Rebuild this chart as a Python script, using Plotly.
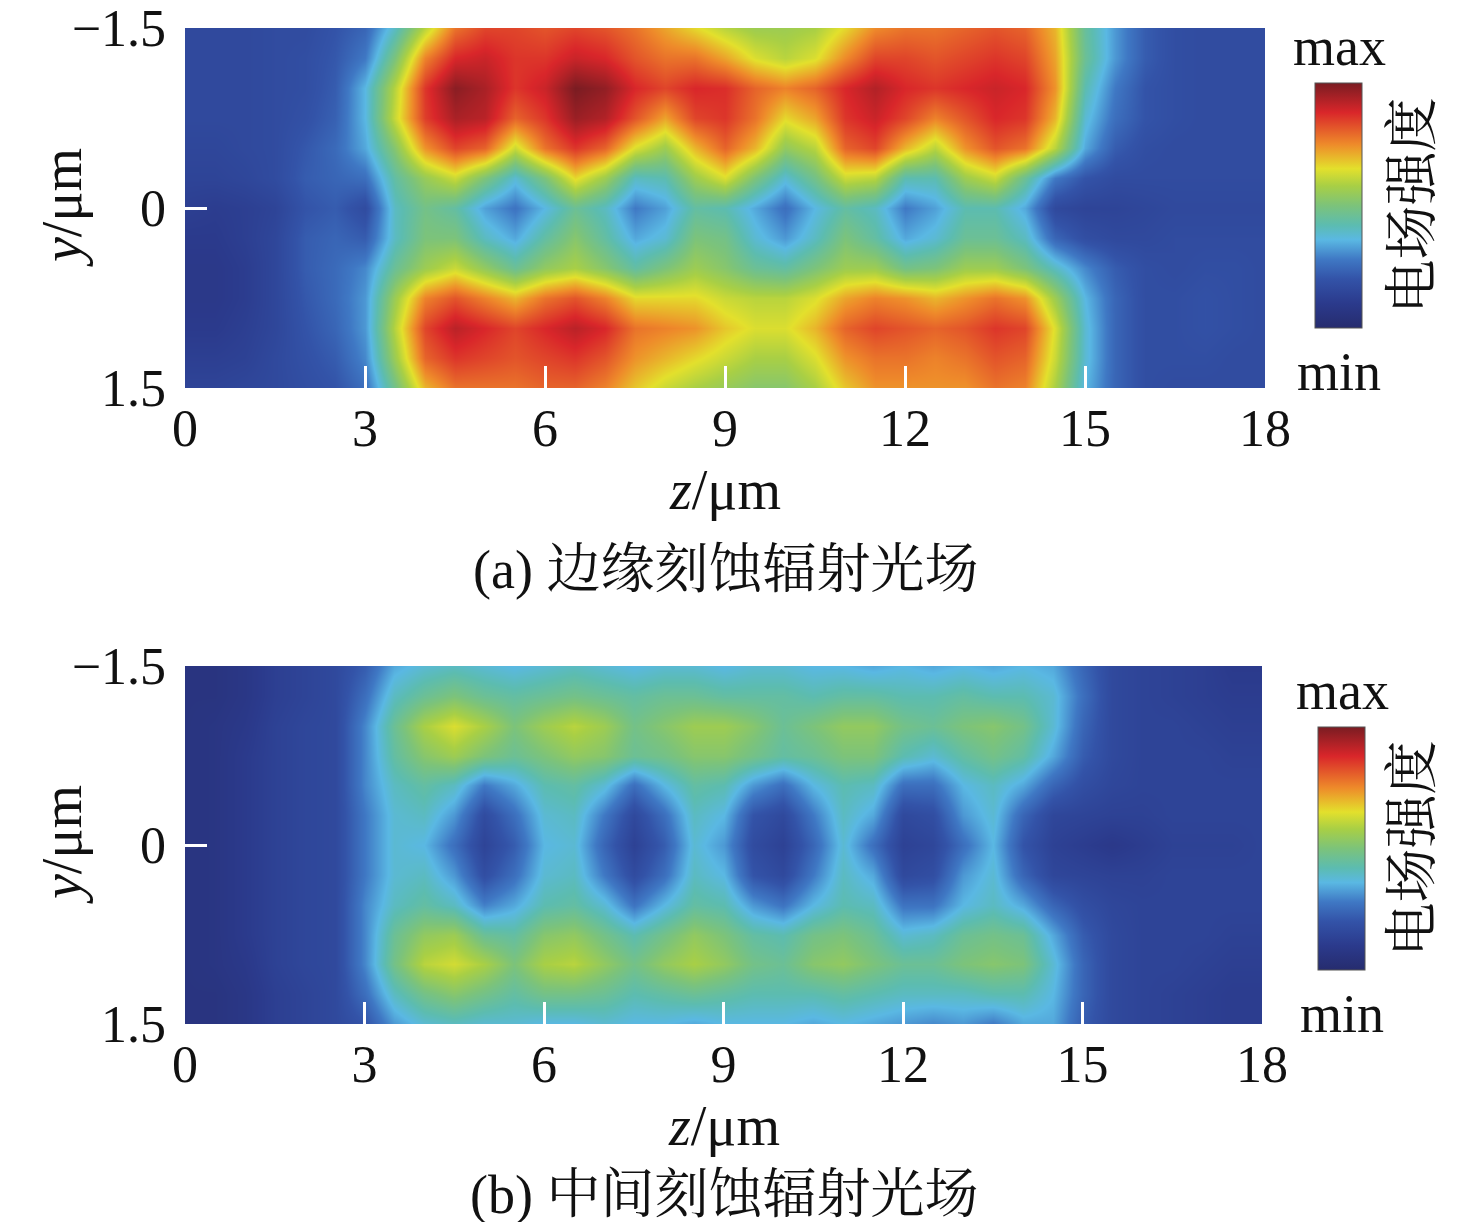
import plotly.graph_objects as go

# grid: z every 0.5 um, y every 0.25 um
z_um = [i * 0.5 for i in range(37)]
y_um = [-1.5, -1.25, -1.0, -0.75, -0.5, -0.25, 0.0, 0.25, 0.5, 0.75, 1.0, 1.25, 1.5]

# (a) edge-etched radiation field, relative intensity 0..100, one row per y
field_a = [
    [16, 16, 16, 17, 17, 20, 24, 40, 60, 78, 84, 84, 82, 84, 82, 78, 72, 66, 60, 56, 56, 58, 66, 75, 78, 78, 80, 82, 80, 70, 45, 32, 22, 18, 17, 17, 17],
    [16, 16, 16, 17, 18, 21, 28, 50, 76, 88, 90, 86, 86, 90, 88, 82, 78, 78, 72, 64, 60, 64, 75, 84, 84, 82, 84, 86, 84, 72, 46, 32, 22, 18, 17, 17, 17],
    [16, 16, 16, 17, 18, 22, 36, 60, 86, 98, 94, 86, 90, 100, 97, 88, 84, 88, 87, 80, 76, 80, 88, 93, 88, 86, 88, 90, 88, 74, 42, 28, 20, 18, 17, 17, 17],
    [16, 16, 16, 17, 19, 23, 36, 62, 85, 94, 92, 80, 86, 96, 93, 82, 72, 84, 86, 78, 66, 72, 86, 90, 84, 76, 82, 88, 86, 70, 38, 26, 20, 18, 17, 17, 17],
    [15, 15, 16, 17, 21, 25, 34, 52, 74, 84, 80, 62, 78, 86, 80, 64, 56, 70, 80, 70, 54, 60, 80, 84, 70, 60, 74, 82, 78, 60, 34, 22, 18, 17, 17, 17, 17],
    [14, 14, 15, 17, 22, 24, 26, 44, 55, 62, 50, 38, 50, 66, 56, 40, 42, 56, 64, 50, 38, 48, 62, 60, 42, 42, 56, 62, 46, 28, 20, 17, 17, 17, 17, 17, 17],
    [12, 11, 12, 14, 20, 22, 17, 40, 48, 44, 33, 27, 36, 46, 40, 28, 33, 44, 42, 34, 26, 36, 44, 40, 28, 33, 42, 42, 34, 16, 14, 14, 15, 16, 16, 16, 16],
    [10, 10, 12, 15, 22, 24, 22, 40, 50, 50, 40, 34, 44, 52, 44, 34, 38, 50, 48, 38, 32, 40, 50, 44, 34, 38, 46, 46, 40, 24, 18, 16, 16, 17, 17, 17, 17],
    [9, 9, 11, 15, 22, 25, 30, 46, 56, 62, 54, 46, 54, 58, 52, 44, 50, 56, 52, 46, 44, 50, 56, 56, 48, 50, 56, 56, 50, 40, 30, 22, 18, 17, 18, 18, 17],
    [9, 9, 11, 15, 21, 25, 32, 56, 76, 82, 76, 70, 78, 82, 76, 66, 66, 66, 62, 60, 60, 64, 72, 76, 74, 70, 74, 78, 74, 56, 36, 24, 18, 18, 19, 18, 17],
    [10, 10, 12, 15, 20, 24, 32, 60, 84, 92, 88, 84, 88, 92, 88, 78, 76, 74, 68, 64, 64, 70, 80, 84, 82, 80, 82, 86, 84, 64, 38, 24, 18, 18, 19, 18, 17],
    [12, 12, 13, 16, 19, 22, 30, 56, 80, 86, 84, 82, 84, 86, 82, 74, 70, 66, 62, 58, 58, 64, 74, 78, 78, 76, 78, 82, 80, 62, 38, 24, 18, 18, 18, 17, 17],
    [14, 14, 15, 16, 18, 20, 26, 48, 70, 78, 78, 78, 80, 80, 76, 68, 62, 58, 55, 52, 52, 58, 68, 74, 74, 74, 74, 78, 76, 58, 36, 24, 18, 17, 17, 17, 17],
]

# (b) centre-etched radiation field
field_b = [
    [6, 6, 8, 12, 14, 16, 22, 34, 38, 40, 38, 36, 38, 40, 38, 36, 38, 38, 36, 38, 38, 36, 36, 34, 36, 34, 36, 34, 36, 34, 24, 16, 14, 13, 12, 10, 10],
    [6, 6, 8, 12, 14, 16, 26, 40, 46, 50, 46, 44, 46, 48, 46, 44, 46, 46, 44, 44, 44, 42, 44, 44, 42, 42, 44, 42, 42, 38, 26, 16, 14, 13, 12, 11, 11],
    [6, 7, 9, 13, 15, 16, 30, 46, 58, 64, 58, 50, 56, 60, 56, 48, 52, 56, 56, 52, 46, 50, 54, 54, 48, 46, 50, 52, 48, 38, 24, 16, 14, 14, 13, 12, 12],
    [6, 7, 10, 13, 15, 16, 30, 44, 52, 56, 50, 46, 50, 54, 52, 46, 48, 52, 52, 48, 44, 46, 50, 50, 42, 38, 44, 48, 44, 34, 22, 16, 14, 14, 14, 13, 13],
    [6, 7, 10, 13, 15, 16, 30, 40, 44, 40, 28, 34, 42, 44, 38, 26, 36, 44, 42, 32, 26, 36, 42, 40, 26, 26, 36, 40, 34, 24, 18, 15, 14, 14, 14, 14, 14],
    [6, 7, 10, 13, 15, 16, 28, 38, 40, 32, 17, 26, 38, 40, 28, 16, 26, 40, 36, 20, 16, 28, 40, 34, 16, 18, 32, 38, 24, 15, 14, 13, 13, 14, 14, 14, 14],
    [6, 7, 10, 13, 15, 16, 28, 38, 36, 26, 14, 22, 36, 38, 24, 13, 22, 38, 32, 17, 13, 24, 38, 26, 13, 15, 26, 36, 20, 13, 11, 9, 11, 13, 13, 13, 14],
    [6, 7, 10, 13, 15, 16, 28, 38, 40, 32, 18, 26, 38, 40, 28, 17, 26, 40, 36, 20, 16, 28, 40, 34, 16, 18, 32, 38, 24, 15, 14, 13, 13, 14, 14, 14, 14],
    [6, 7, 10, 13, 15, 16, 30, 40, 44, 40, 29, 34, 42, 44, 38, 27, 36, 44, 42, 32, 27, 36, 42, 40, 27, 27, 36, 40, 34, 24, 18, 15, 14, 14, 14, 14, 14],
    [6, 7, 10, 13, 15, 16, 30, 46, 54, 56, 46, 44, 52, 54, 48, 42, 48, 54, 50, 44, 42, 48, 50, 46, 38, 40, 46, 48, 46, 34, 22, 16, 14, 14, 14, 13, 13],
    [6, 7, 9, 13, 15, 16, 30, 48, 60, 63, 58, 50, 58, 60, 54, 48, 54, 58, 54, 48, 46, 52, 54, 50, 46, 46, 50, 52, 50, 38, 24, 16, 14, 14, 13, 12, 12],
    [6, 6, 8, 12, 14, 16, 26, 40, 48, 52, 48, 44, 48, 48, 46, 42, 44, 46, 44, 42, 42, 42, 44, 42, 40, 40, 40, 42, 42, 36, 24, 16, 14, 13, 12, 11, 11],
    [6, 6, 8, 12, 14, 16, 20, 32, 38, 40, 38, 38, 36, 36, 38, 36, 36, 34, 36, 36, 36, 34, 36, 34, 32, 30, 32, 28, 34, 34, 22, 16, 14, 13, 12, 11, 11],
]

z_ticks = [0, 3, 6, 9, 12, 15, 18]
y_ticks = [-1.5, 0, 1.5]
y_ticktext = ["\u22121.5", "0", "1.5"]
captions = ["(a) 边缘刻蚀辐射光场", "(b) 中间刻蚀辐射光场"]

jet = [
    [0.00, "#262c6e"], [0.10, "#2b3a8c"], [0.20, "#3353a8"], [0.28, "#3f78c4"],
    [0.36, "#5ab8e3"], [0.42, "#5cbcb0"], [0.50, "#7cc37a"], [0.58, "#a8cf45"],
    [0.65, "#e3e02c"], [0.75, "#ee8a2a"], [0.88, "#d9262a"], [1.00, "#7a1c22"],
]

# page is 1476x1230 but the html body keeps an 8px margin
PAGE_W, PAGE_H, BODY = 1476, 1230, 8
W, H = PAGE_W - 2 * BODY, PAGE_H - 2 * BODY
# plot area in page pixels
L, R, T, B = 185, 1265, 28, 1024
FONT = "Liberation Serif, 'Noto Serif CJK SC', 'Noto Sans CJK SC', serif"


def px(x):
    return (x - L) / (R - L)


def py(y):
    return (B - y) / (B - T)


# pixel boxes of each panel: (left, right, top, bottom), colorbar (left, top, bottom),
# caption centre offset below the panel
panels = [
    dict(field=field_a, box=(185, 1265, 28, 388), cbar=(1315, 83, 328), cap=182),
    dict(field=field_b, box=(185, 1262, 666, 1024), cbar=(1318, 727, 970), cap=171),
]

fig = go.Figure()
annotations = []
for i, p in enumerate(panels):
    l, r, t, b = p["box"]
    cl, ct, cb = p["cbar"]
    xa = "x" if i == 0 else "x2"
    ya = "y" if i == 0 else "y2"
    fig.add_trace(
        go.Heatmap(
            x=z_um,
            y=y_um,
            z=p["field"],
            zmin=0,
            zmax=100,
            zsmooth="best",
            colorscale=jet,
            xaxis=xa,
            yaxis=ya,
            colorbar=dict(
                x=px(cl), xanchor="left", xref="paper",
                y=py((ct + cb) / 2), yanchor="middle", yref="paper",
                len=cb - ct, lenmode="pixels",
                thickness=47, thicknessmode="pixels",
                outlinewidth=1, outlinecolor="#555555",
                xpad=0, ypad=0,
                showticklabels=False, ticks="",
            ),
            hoverinfo="skip",
        )
    )
    axis_common = dict(
        showgrid=False, zeroline=False, showline=False, automargin=False,
        ticks="inside", tickcolor="white", tickwidth=3, ticklen=22,
        ticklabeloverflow="allow",
        tickfont=dict(family=FONT, size=52, color="#111111"),
    )
    fig.layout["xaxis" + ("" if i == 0 else "2")] = dict(
        axis_common,
        domain=[px(l), px(r)], range=[0, 18],
        tickvals=z_ticks, anchor=ya, ticklabelstandoff=5,
    )
    fig.layout["yaxis" + ("" if i == 0 else "2")] = dict(
        axis_common,
        domain=[py(b), py(t)], range=[1.5, -1.5],
        tickvals=y_ticks, ticktext=y_ticktext, anchor=xa, ticklabelstandoff=18,
    )
    ccx = px(cl + 24)
    annotations += [
        dict(text="max", x=ccx, y=py(ct - 36), font=dict(size=54)),
        dict(text="min", x=ccx, y=py(cb + 44), font=dict(size=54)),
        dict(text="电场强度", x=px(1412), y=py((ct + cb) / 2), textangle=-90,
             font=dict(size=54)),
        dict(text="<i>y</i>/μm", x=px(62), y=py((t + b) / 2), textangle=-90,
             font=dict(size=56)),
        dict(text="<i>z</i>/μm", x=px((l + r) / 2), y=py(b + 102),
             font=dict(size=56)),
        dict(text=captions[i], x=px((l + r) / 2), y=py(b + p["cap"]),
             font=dict(size=54)),
    ]

for a in annotations:
    a.update(xref="paper", yref="paper", showarrow=False,
             xanchor="center", yanchor="middle")
    a["font"].update(family=FONT, color="#111111")

fig.update_layout(
    width=W, height=H,
    margin=dict(l=L - BODY, r=BODY + W - R, t=T - BODY, b=BODY + H - B,
                autoexpand=False),
    paper_bgcolor="white", plot_bgcolor="white",
    font=dict(family=FONT, color="#111111"),
    annotations=annotations,
    showlegend=False,
)

fig.write_html("out.html")
